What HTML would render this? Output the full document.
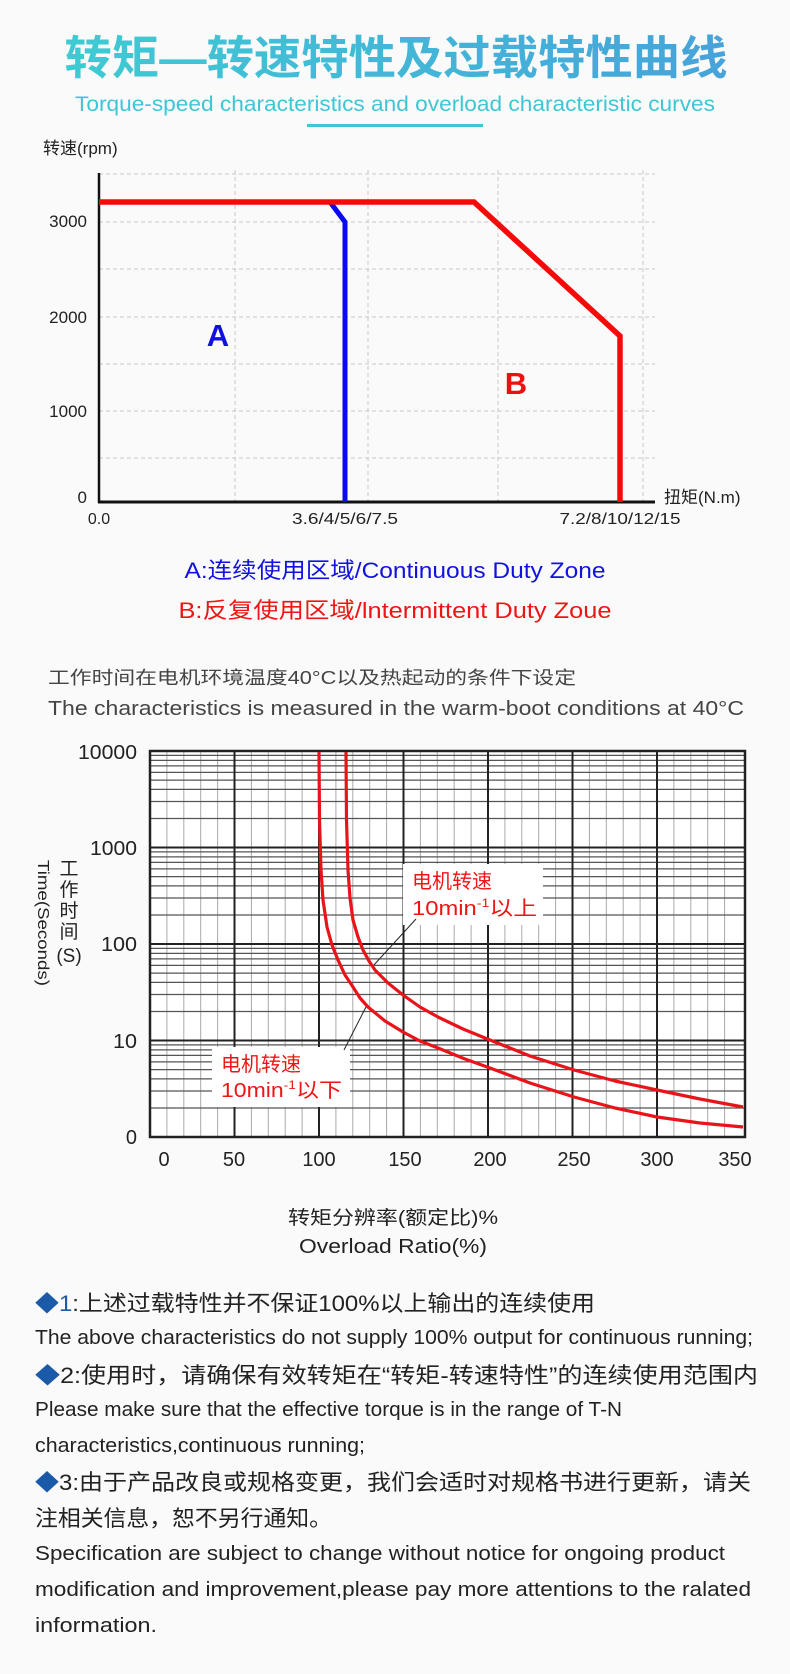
<!DOCTYPE html>
<html><head><meta charset="utf-8"><style>
html,body{margin:0;padding:0;background:#fafafa;}
svg{display:block;}
text{font-family:"Liberation Sans","Noto Sans CJK SC",sans-serif;}
</style></head><body>
<svg width="790" height="1674" viewBox="0 0 790 1674" xmlns="http://www.w3.org/2000/svg">
<defs>
<linearGradient id="tg" x1="0" y1="0" x2="1" y2="0">
<stop offset="0" stop-color="#3ecbd3"/><stop offset="1" stop-color="#47a3da"/>
</linearGradient>
</defs>
<rect width="790" height="1674" fill="#fafafa"/>
<!-- Title -->
<text x="396" y="74" text-anchor="middle" font-size="46" font-weight="bold" fill="url(#tg)" textLength="663" lengthAdjust="spacingAndGlyphs">转矩—转速特性及过载特性曲线</text>
<text x="395" y="111" text-anchor="middle" font-size="21" fill="#3fc6d4" textLength="640" lengthAdjust="spacingAndGlyphs">Torque-speed characteristics and overload characteristic curves</text>
<rect x="307" y="124" width="176" height="3" fill="#3fc6d4"/>

<!-- Chart 1 -->
<text x="43" y="154" font-size="17" fill="#222">转速(rpm)</text>
<g stroke="#c8c8c8" stroke-width="1" stroke-dasharray="4,3">
<line x1="99" y1="174" x2="655" y2="174"/><line x1="99" y1="222" x2="655" y2="222"/>
<line x1="99" y1="269" x2="655" y2="269"/><line x1="99" y1="317" x2="655" y2="317"/>
<line x1="99" y1="364" x2="655" y2="364"/><line x1="99" y1="411" x2="655" y2="411"/>
<line x1="99" y1="458" x2="655" y2="458"/>
<line x1="235" y1="170" x2="235" y2="502"/><line x1="368" y1="170" x2="368" y2="502"/>
<line x1="498" y1="170" x2="498" y2="502"/><line x1="643" y1="170" x2="643" y2="502"/>
</g>
<line x1="99" y1="173" x2="99" y2="503" stroke="#111" stroke-width="2.5"/>
<line x1="98" y1="502" x2="655" y2="502" stroke="#111" stroke-width="3"/>
<g font-size="17" fill="#222" text-anchor="end">
<text x="87" y="227">3000</text><text x="87" y="323">2000</text><text x="87" y="417">1000</text><text x="87" y="503">0</text>
</g>
<text x="664" y="503" font-size="17" fill="#222">扭矩(N.m)</text>
<g font-size="16" fill="#222" text-anchor="middle">
<text x="99" y="524">0.0</text>
<text x="345" y="524" textLength="106" lengthAdjust="spacingAndGlyphs">3.6/4/5/6/7.5</text>
<text x="620" y="524" textLength="121" lengthAdjust="spacingAndGlyphs">7.2/8/10/12/15</text>
</g>
<polyline points="330,202 345,222 345,502" fill="none" stroke="#0a0af0" stroke-width="5"/>
<polyline points="99,202 474,202 620,336 620,502" fill="none" stroke="#f50a0a" stroke-width="5.5"/>
<text x="218" y="346" text-anchor="middle" font-size="31" font-weight="bold" fill="#1010e0">A</text>
<text x="516" y="394" text-anchor="middle" font-size="31" font-weight="bold" fill="#ee1010">B</text>

<text x="395" y="578" text-anchor="middle" font-size="22" fill="#1212e0" textLength="421" lengthAdjust="spacingAndGlyphs">A:连续使用区域/Continuous Duty Zone</text>
<text x="395" y="618" text-anchor="middle" font-size="22" fill="#ee1515" textLength="433" lengthAdjust="spacingAndGlyphs">B:反复使用区域/lntermittent Duty Zoue</text>

<text x="48" y="684" font-size="18" fill="#444" textLength="528" lengthAdjust="spacingAndGlyphs">工作时间在电机环境温度40°C以及热起动的条件下设定</text>
<text x="48" y="715" font-size="20" fill="#444" textLength="696" lengthAdjust="spacingAndGlyphs">The characteristics is measured in the warm-boot conditions at 40°C</text>

<!-- Chart 2 -->
<rect x="150" y="751" width="595" height="386" fill="#fff"/>
<path stroke="#aaa" stroke-width="1" fill="none" d="M166.9 751V1137M183.8 751V1137M200.7 751V1137M217.6 751V1137M251.4 751V1137M268.3 751V1137M285.2 751V1137M302.1 751V1137M335.9 751V1137M352.8 751V1137M369.7 751V1137M386.6 751V1137M420.4 751V1137M437.3 751V1137M454.2 751V1137M471.1 751V1137M504.9 751V1137M521.8 751V1137M538.7 751V1137M555.6 751V1137M589.4 751V1137M606.3 751V1137M623.2 751V1137M640.1 751V1137M673.9 751V1137M690.8 751V1137M707.7 751V1137M724.6 751V1137"/>
<path stroke="#555" stroke-width="1.3" fill="none" d="M150 1108H745M150 1091H745M150 1078.9H745M150 1069.6H745M150 1061.9H745M150 1055.4H745M150 1049.9H745M150 1044.9H745M150 1011.5H745M150 994.5H745M150 982.4H745M150 973.1H745M150 965.4H745M150 958.9H745M150 953.4H745M150 948.4H745M150 915H745M150 898H745M150 885.9H745M150 876.6H745M150 868.9H745M150 862.4H745M150 856.9H745M150 851.9H745M150 818.5H745M150 801.5H745M150 789.4H745M150 780.1H745M150 772.4H745M150 765.9H745M150 760.4H745M150 755.4H745"/>
<path stroke="#222" stroke-width="2" fill="none" d="M150 1040.5H745M150 944H745M150 847.5H745M234.5 751V1137M319 751V1137M403.5 751V1137M488 751V1137M572.5 751V1137M657 751V1137"/>
<rect x="150" y="751" width="595" height="386" fill="none" stroke="#222" stroke-width="2.5"/>
<!-- label boxes -->
<rect x="403" y="864" width="140" height="61" fill="#fff"/>
<rect x="212" y="1047" width="138" height="60" fill="#fff"/>
<line x1="416" y1="919" x2="373" y2="966" stroke="#222" stroke-width="1"/>
<line x1="367" y1="1005" x2="344" y2="1050" stroke="#222" stroke-width="1"/>
<polyline points="319,752 319.5,820 321,870 323,900 327,927 332,945 338,960 345,975 353,987 360,998 368,1007 385,1021 403,1032 420,1041 438,1048 465,1059 490,1068 530,1083 574,1097 615,1108 657,1117 700,1123 743,1127" fill="none" stroke="#e8141a" stroke-width="3.2" stroke-linejoin="round"/>
<polyline points="346,752 346.5,820 348,870 350,898 353,920 358,937 363,950 369,961 375,970 388,983 403,995 420,1007 438,1017 463,1029 490,1040 530,1056 574,1070 615,1081 657,1090 700,1099 743,1107" fill="none" stroke="#e8141a" stroke-width="3.2" stroke-linejoin="round"/>
<g font-size="20" fill="#ee1515">
<text x="412" y="888">电机转速</text>
<text x="412" y="915" textLength="125" lengthAdjust="spacingAndGlyphs">10min<tspan font-size="12" dy="-8">-1</tspan><tspan dy="8">以上</tspan></text>
<text x="221" y="1071">电机转速</text>
<text x="221" y="1097" textLength="121" lengthAdjust="spacingAndGlyphs">10min<tspan font-size="12" dy="-8">-1</tspan><tspan dy="8">以下</tspan></text>
</g>
<g font-size="20" fill="#222" text-anchor="end">
<text x="137" y="759" textLength="59" lengthAdjust="spacingAndGlyphs">10000</text>
<text x="137" y="855" textLength="47" lengthAdjust="spacingAndGlyphs">1000</text>
<text x="137" y="951" textLength="36" lengthAdjust="spacingAndGlyphs">100</text>
<text x="137" y="1048" textLength="24" lengthAdjust="spacingAndGlyphs">10</text>
<text x="137" y="1144">0</text>
</g>
<g font-size="20" fill="#222" text-anchor="middle">
<text x="164" y="1166">0</text><text x="234" y="1166">50</text><text x="319" y="1166">100</text><text x="405" y="1166">150</text>
<text x="490" y="1166">200</text><text x="574" y="1166">250</text><text x="657" y="1166">300</text><text x="735" y="1166">350</text>
</g>
<g font-size="19" fill="#222" text-anchor="middle">
<text x="69" y="875">工</text><text x="69" y="896">作</text><text x="69" y="917">时</text><text x="69" y="938">间</text><text x="69" y="962">(S)</text>
</g>
<text transform="translate(38,860) rotate(90)" font-size="16" fill="#222" textLength="126" lengthAdjust="spacingAndGlyphs">Time(Seconds)</text>

<text x="393" y="1224" text-anchor="middle" font-size="19" fill="#222" textLength="210" lengthAdjust="spacingAndGlyphs">转矩分辨率(额定比)%</text>
<text x="393" y="1253" text-anchor="middle" font-size="20" fill="#222" textLength="188" lengthAdjust="spacingAndGlyphs">Overload Ratio(%)</text>

<!-- Notes -->
<g font-size="22" fill="#222">
<text x="35" y="1311" textLength="560" lengthAdjust="spacingAndGlyphs"><tspan fill="#1a5aa8">◆1</tspan>:上述过载特性并不保证100%以上输出的连续使用</text>
<text x="35" y="1383" textLength="723" lengthAdjust="spacingAndGlyphs"><tspan fill="#1a5aa8">◆</tspan>2:使用时，请确保有效转矩在“转矩-转速特性”的连续使用范围内</text>
<text x="35" y="1490" textLength="716" lengthAdjust="spacingAndGlyphs"><tspan fill="#1a5aa8">◆</tspan>3:由于产品改良或规格变更，我们会适时对规格书进行更新，请关</text>
<text x="35" y="1526" textLength="297" lengthAdjust="spacingAndGlyphs">注相关信息，恕不另行通知。</text>
</g>
<g font-size="20" fill="#222">
<text x="35" y="1344" textLength="718" lengthAdjust="spacingAndGlyphs">The above characteristics do not supply 100% output for continuous running;</text>
<text x="35" y="1416" textLength="587" lengthAdjust="spacingAndGlyphs">Please make sure that the effective torque is in the range of T-N</text>
<text x="35" y="1452" textLength="330" lengthAdjust="spacingAndGlyphs">characteristics,continuous running;</text>
<text x="35" y="1560" textLength="690" lengthAdjust="spacingAndGlyphs">Specification are subject to change without notice for ongoing product</text>
<text x="35" y="1596" textLength="716" lengthAdjust="spacingAndGlyphs">modification and improvement,please pay more attentions to the ralated</text>
<text x="35" y="1632" textLength="122" lengthAdjust="spacingAndGlyphs">information.</text>
</g>
</svg>
</body></html>
